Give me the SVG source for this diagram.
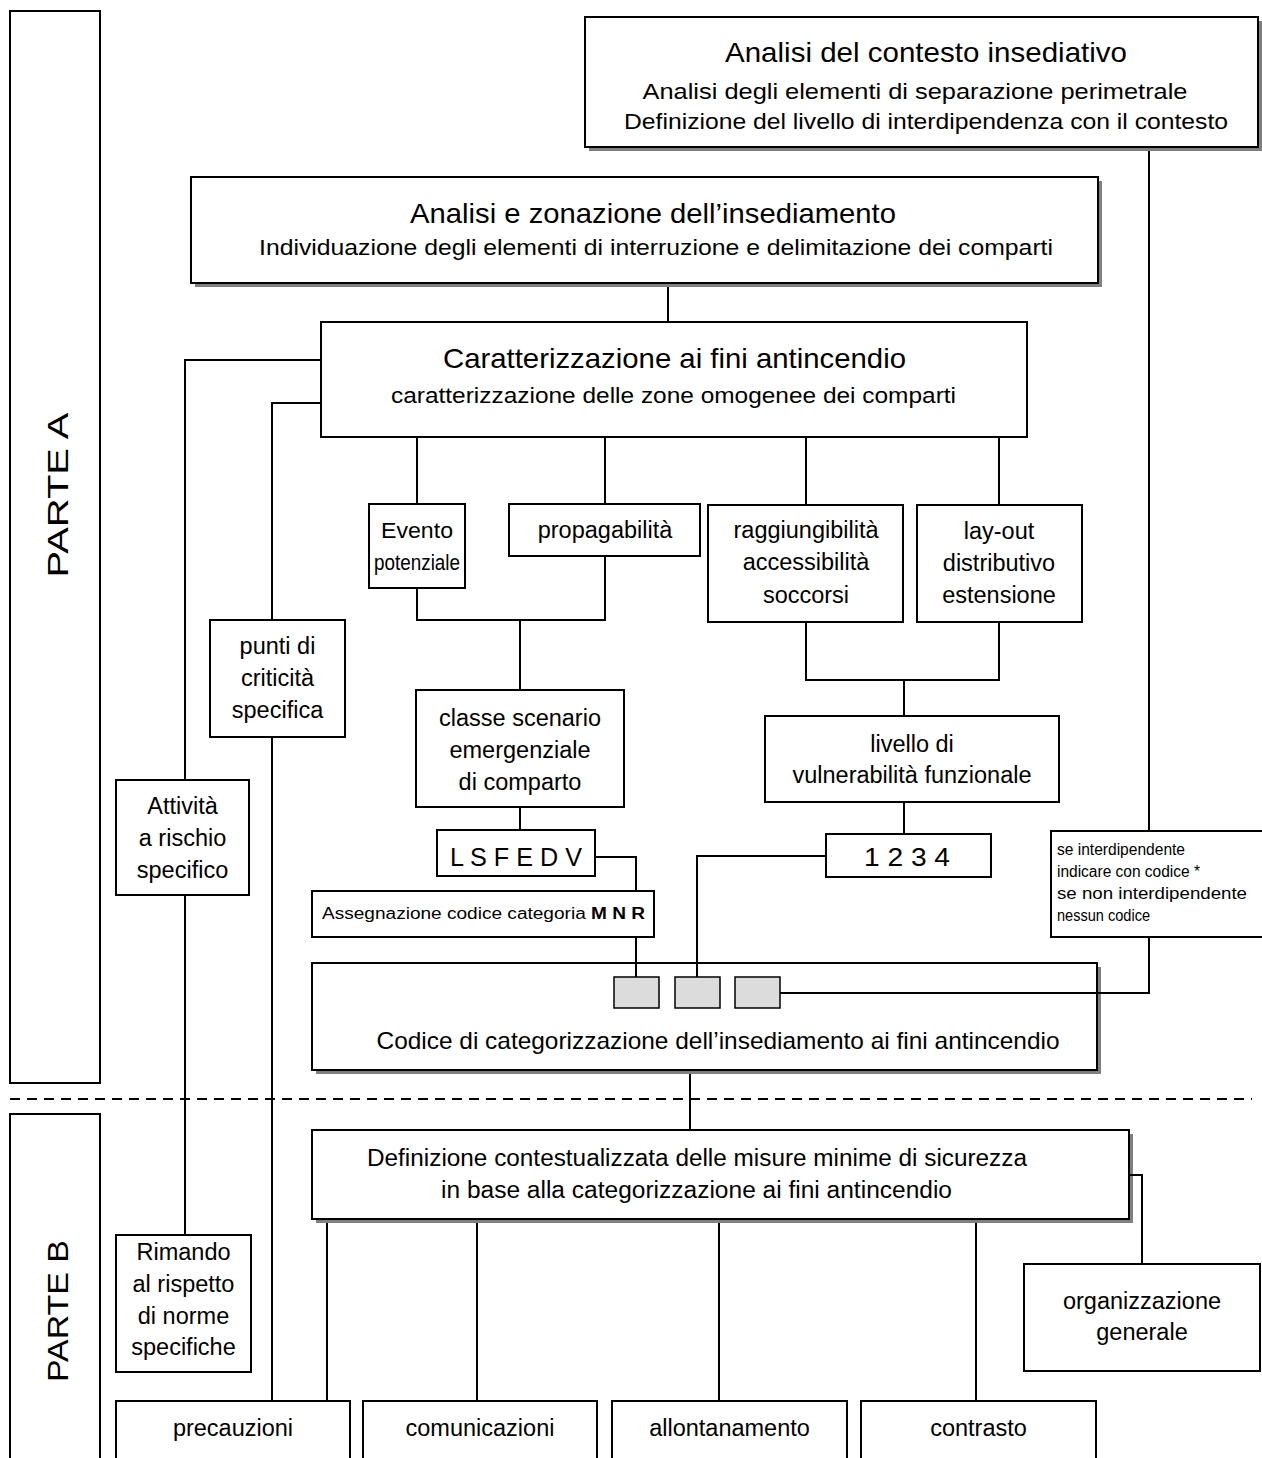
<svg xmlns="http://www.w3.org/2000/svg" width="1262" height="1458" viewBox="0 0 1262 1458">
<style>
.b{fill:#fff;stroke:#000;stroke-width:2}
.s{fill:#808080}
.c{fill:none;stroke:#000;stroke-width:2}
.g{fill:#dcdcdc;stroke:#000;stroke-width:1.5}
text{font-family:"Liberation Sans",Arial,sans-serif;fill:#000;text-anchor:middle}
.l{font-size:23.5px}
.h{font-size:28px}
.sub{font-size:22px}
.sm{font-size:16px;text-anchor:start}
</style>
<rect width="1262" height="1458" fill="#fff"/>

<g id="parteA">
<rect class="b" x="10" y="11" width="90" height="1072"/>
<text transform="translate(68,495) rotate(-90)" font-size="29" textLength="165" lengthAdjust="spacingAndGlyphs">PARTE A</text>
</g>
<g id="parteB">
<rect class="b" x="10" y="1114" width="90" height="360"/>
<text transform="translate(68,1311) rotate(-90)" font-size="29" textLength="142" lengthAdjust="spacingAndGlyphs">PARTE B</text>
</g>

<g id="contesto">
<rect class="s" x="589" y="21" width="673" height="130"/>
<rect class="b" x="585" y="17" width="673" height="130"/>
<text class="h" x="926" y="62" textLength="402" lengthAdjust="spacingAndGlyphs">Analisi del contesto insediativo</text>
<text class="sub" x="915" y="99" textLength="545" lengthAdjust="spacingAndGlyphs">Analisi degli elementi di separazione perimetrale</text>
<text class="sub" x="926" y="129" textLength="604" lengthAdjust="spacingAndGlyphs">Definizione del livello di interdipendenza con il contesto</text>
</g>

<g id="zonazione">
<rect class="s" x="195" y="181" width="907" height="106"/>
<rect class="b" x="191" y="177" width="907" height="106"/>
<text class="h" x="653" y="223" textLength="486" lengthAdjust="spacingAndGlyphs">Analisi e zonazione dell’insediamento</text>
<text class="sub" x="656" y="255" textLength="794" lengthAdjust="spacingAndGlyphs">Individuazione degli elementi di interruzione e delimitazione dei comparti</text>
</g>

<g id="caratterizzazione">
<rect class="b" x="321" y="322" width="706" height="115"/>
<text class="h" x="674.5" y="368" textLength="463" lengthAdjust="spacingAndGlyphs">Caratterizzazione ai fini antincendio</text>
<text class="sub" x="673.5" y="403" textLength="565" lengthAdjust="spacingAndGlyphs">caratterizzazione delle zone omogenee dei comparti</text>
</g>

<g id="evento">
<rect class="b" x="369" y="504" width="96" height="84"/>
<text x="417" y="538" font-size="22" textLength="72" lengthAdjust="spacingAndGlyphs">Evento</text>
<text x="417" y="570" font-size="22" textLength="86" lengthAdjust="spacingAndGlyphs">potenziale</text>
</g>
<g id="propagabilita">
<rect class="b" x="509" y="504" width="191" height="52"/>
<text class="l" x="605" y="538">propagabilità</text>
</g>
<g id="raggiungibilita">
<rect class="b" x="708" y="505" width="195" height="117"/>
<text class="l" x="806" y="538">raggiungibilità</text>
<text class="l" x="806" y="570">accessibilità</text>
<text class="l" x="806" y="603">soccorsi</text>
</g>
<g id="layout">
<rect class="b" x="917" y="505" width="165" height="117"/>
<text class="l" x="999" y="539">lay-out</text>
<text class="l" x="999" y="571">distributivo</text>
<text class="l" x="999" y="603">estensione</text>
</g>

<g id="punti">
<rect class="b" x="210" y="620" width="135" height="117"/>
<text class="l" x="277.5" y="654">punti di</text>
<text class="l" x="277.5" y="686">criticità</text>
<text class="l" x="277.5" y="718">specifica</text>
</g>
<g id="attivita">
<rect class="b" x="116" y="780" width="133" height="115"/>
<text class="l" x="182.5" y="814">Attività</text>
<text class="l" x="182.5" y="846">a rischio</text>
<text class="l" x="182.5" y="878">specifico</text>
</g>

<g id="classe">
<rect class="b" x="416" y="690" width="208" height="117"/>
<text class="l" x="520" y="726">classe scenario</text>
<text class="l" x="520" y="758">emergenziale</text>
<text class="l" x="520" y="790">di comparto</text>
</g>
<g id="livello">
<rect class="b" x="765" y="716" width="294" height="86"/>
<text class="l" x="912" y="752">livello di</text>
<text class="l" x="912" y="783">vulnerabilità funzionale</text>
</g>

<g id="lsfedv">
<rect class="b" x="437" y="830" width="158" height="46"/>
<text x="516" y="866" font-size="26" textLength="132" lengthAdjust="spacingAndGlyphs">L S F E D V</text>
</g>
<g id="num">
<rect class="b" x="826" y="834" width="165" height="43"/>
<text x="907" y="866" font-size="26" textLength="86" lengthAdjust="spacingAndGlyphs">1 2 3 4</text>
</g>
<g id="mnr">
<rect class="b" x="312" y="891" width="342" height="46"/>
<text class="sm" x="322" y="919" font-size="17" textLength="323" lengthAdjust="spacingAndGlyphs">Assegnazione codice categoria <tspan font-weight="bold">M N R</tspan></text>
</g>
<g id="interdipendente">
<rect class="b" x="1051" y="831" width="215" height="106"/>
<text class="sm" x="1057" y="855" textLength="128" lengthAdjust="spacingAndGlyphs">se interdipendente</text>
<text class="sm" x="1057" y="877" textLength="143" lengthAdjust="spacingAndGlyphs">indicare con codice *</text>
<text class="sm" x="1057" y="899" textLength="190" lengthAdjust="spacingAndGlyphs">se non interdipendente</text>
<text class="sm" x="1057" y="921" textLength="93" lengthAdjust="spacingAndGlyphs">nessun codice</text>
</g>

<g id="codice">
<rect class="s" x="316" y="967" width="785" height="107"/>
<rect class="b" x="312" y="963" width="785" height="107"/>
<rect class="g" x="614" y="977" width="45" height="31"/>
<rect class="g" x="675" y="977" width="45" height="31"/>
<rect class="g" x="735" y="977" width="45" height="31"/>
<text x="718" y="1049" font-size="24" textLength="683" lengthAdjust="spacingAndGlyphs">Codice di categorizzazione dell’insediamento ai fini antincendio</text>
</g>

<g id="definizione">
<rect class="s" x="316" y="1134" width="817" height="89"/>
<rect class="b" x="312" y="1130" width="817" height="89"/>
<text x="697" y="1166" font-size="23" textLength="660" lengthAdjust="spacingAndGlyphs">Definizione contestualizzata delle misure minime di sicurezza</text>
<text x="696.5" y="1198" font-size="23" textLength="511" lengthAdjust="spacingAndGlyphs">in base alla categorizzazione ai fini antincendio</text>
</g>

<g id="organizzazione">
<rect class="b" x="1024" y="1264" width="236" height="107"/>
<text class="l" x="1142" y="1309">organizzazione</text>
<text class="l" x="1142" y="1340">generale</text>
</g>
<g id="rimando">
<rect class="b" x="116" y="1235" width="135" height="137"/>
<text class="l" x="183.5" y="1260">Rimando</text>
<text class="l" x="183.5" y="1292">al rispetto</text>
<text class="l" x="183.5" y="1324">di norme</text>
<text class="l" x="183.5" y="1355">specifiche</text>
</g>

<g id="precauzioni">
<rect class="b" x="116" y="1401" width="234" height="80"/>
<text class="l" x="233" y="1436">precauzioni</text>
</g>
<g id="comunicazioni">
<rect class="b" x="363" y="1401" width="234" height="80"/>
<text class="l" x="480" y="1436">comunicazioni</text>
</g>
<g id="allontanamento">
<rect class="b" x="612" y="1401" width="235" height="80"/>
<text class="l" x="729.5" y="1436">allontanamento</text>
</g>
<g id="contrasto">
<rect class="b" x="861" y="1401" width="235" height="80"/>
<text class="l" x="978.5" y="1436">contrasto</text>
</g>

<g id="connectors">
<path class="c" d="M1149 151V831M1149 937V993H780"/>
<path class="c" d="M668 287V322"/>
<path class="c" d="M321 360H185V780M321 403H272V620M272 737V1401M185 895V1235"/>
<path class="c" d="M417 437V504M605 437V504M806 437V505M999 437V505"/>
<path class="c" d="M417 588V620H605V556M520 620V690"/>
<path class="c" d="M806 622V680H999V622M904 680V716"/>
<path class="c" d="M520 807V830M904 802V834"/>
<path class="c" d="M595 857H636V891M636 937V977M826 856H697V977"/>
<path class="c" d="M690 1074V1130"/>
<path class="c" d="M327 1223V1401M477 1223V1401M719 1223V1401M976 1223V1401M1129 1175H1142V1264"/>
<path d="M10 1099H1252" fill="none" stroke="#000" stroke-width="2" stroke-dasharray="10 7"/>
</g>
</svg>
